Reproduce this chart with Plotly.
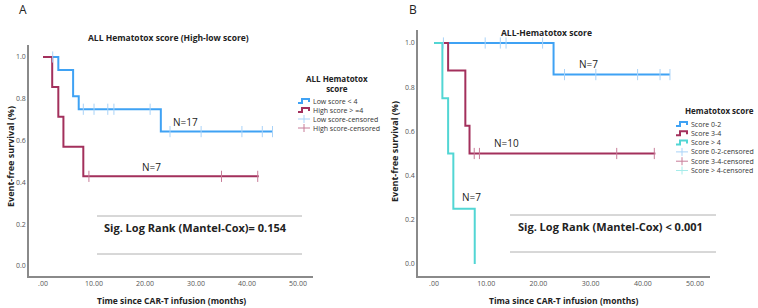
import plotly.graph_objects as go

W, H = 758, 308
FONT = "Open Sans"

# ---------------- data ----------------
x_ticks = [0, 10, 20, 30, 40, 50]
x_ticktext = [".00", "10.00", "20.00", "30.00", "40.00", "50.00"]
y_ticks = [0.0, 0.2, 0.4, 0.6, 0.8, 1.0]
y_ticktext = ["0.0", "0.2", "0.4", "0.6", "0.8", "1.0"]

# Panel A
a_low_t = [0, 3.0, 5.9, 7.0, 23.1, 45.0]
a_low_s = [1.0, 0.9375, 0.8125, 0.75, 0.643, 0.643]
a_low_cens_t = [1.9, 7.9, 10.0, 12.7, 13.9, 21.0, 24.9, 31.0, 39.0, 43.0, 45.0]
a_low_cens_s = [1.0, 0.75, 0.75, 0.75, 0.75, 0.75, 0.643, 0.643, 0.643, 0.643, 0.643]
a_high_t = [0, 1.8, 3.0, 4.0, 7.9, 42.3]
a_high_s = [1.0, 0.857, 0.714, 0.571, 0.429, 0.429]
a_high_cens_t = [9.0, 35.0, 42.1]
a_high_cens_s = [0.429, 0.429, 0.429]

# Panel B
b_s02_t = [0, 22.9, 45.2]
b_s02_s = [1.0, 0.857, 0.857]
b_s02_cens_t = [1.8, 9.8, 12.7, 13.8, 20.8, 25.0, 31.0, 39.0, 43.3, 45.2]
b_s02_cens_s = [1.0, 1.0, 1.0, 1.0, 1.0, 0.857, 0.857, 0.857, 0.857, 0.857]
b_s34_t = [0, 2.7, 6.0, 6.8, 42.4]
b_s34_s = [1.0, 0.875, 0.625, 0.5, 0.5]
b_s34_cens_t = [7.7, 8.7, 35.0, 42.2]
b_s34_cens_s = [0.5, 0.5, 0.5, 0.5]
b_s4_t = [0, 1.6, 2.7, 3.7, 7.8]
b_s4_s = [1.0, 0.75, 0.5, 0.25, 0.0]

a_legend_title = "ALL Hematotox<br>score"
a_legend_labels = ["Low score < 4", "High score > =4", "Low score-censored", "High score-censored"]
b_legend_title = "Hematotox score"
b_legend_labels = ["Score 0-2", "Score 3-4", "Score > 4", "Score 0-2-censored",
                   "Score 3-4-censored", "Score > 4-censored"]

BLUE, BLUE_L = "#3fa2f4", "#a9d3f8"
RED, RED_L = "#a3305c", "#c77c98"
CYAN, CYAN_L = "#52d6d4", "#a6ecea"

def px(x):
    return x / W

def py(y):
    return 1 - y / H

fig = go.Figure()

def step(x, y, color, xa, ya):
    fig.add_trace(go.Scatter(x=x, y=y, mode="lines", line=dict(color=color, width=2, shape="hv"),
                             xaxis=xa, yaxis=ya, showlegend=False, hoverinfo="skip"))

def cens(x, y, color, xa, ya):
    fig.add_trace(go.Scatter(x=x, y=y, mode="markers",
                             marker=dict(symbol="line-ns-open", size=8, color=color,
                                         line=dict(color=color, width=1)),
                             xaxis=xa, yaxis=ya, showlegend=False, hoverinfo="skip"))

step(a_low_t, a_low_s, BLUE, "x", "y")
step(a_high_t, a_high_s, RED, "x", "y")
cens(a_low_cens_t, a_low_cens_s, BLUE_L, "x", "y")
cens(a_high_cens_t, a_high_cens_s, RED_L, "x", "y")

step(b_s02_t, b_s02_s, BLUE, "x2", "y2")
step(b_s34_t, b_s34_s, RED, "x2", "y2")
step(b_s4_t, b_s4_s, CYAN, "x2", "y2")
cens(b_s02_cens_t, b_s02_cens_s, BLUE_L, "x2", "y2")
cens(b_s34_cens_t, b_s34_cens_s, RED_L, "x2", "y2")

axis_common = dict(showgrid=False, zeroline=False, showline=True, linecolor="#8a8a8a", linewidth=1.5,
                   ticks="", tickfont=dict(family=FONT, size=7, color="#555"))

fig.update_layout(
    width=W, height=H, margin=dict(l=0, r=0, t=0, b=0),
    paper_bgcolor="white", plot_bgcolor="white",
    xaxis=dict(domain=[px(29), px(313)], range=[-2.75, 52.94], tickvals=x_ticks, ticktext=x_ticktext,
               anchor="y", **axis_common),
    yaxis=dict(domain=[py(276), py(45)], range=[-0.0478, 1.0574], tickvals=y_ticks, ticktext=y_ticktext,
               anchor="x", **axis_common),
    xaxis2=dict(domain=[px(418), px(710)], range=[-3.07, 52.87], tickvals=x_ticks, ticktext=x_ticktext,
                anchor="y2", **axis_common),
    yaxis2=dict(domain=[py(276), py(30)], range=[-0.0543, 1.0588], tickvals=y_ticks, ticktext=y_ticktext,
                anchor="x2", **axis_common),
)

ann = []
shapes = []

def text(x, y, s, size, bold=False, xref="paper", yref="paper", angle=0, xanchor="center", color="#222"):
    ann.append(dict(x=x, y=y, xref=xref, yref=yref, text=("<b>%s</b>" % s) if bold else s,
                    showarrow=False, xanchor=xanchor, yanchor="middle", textangle=angle,
                    font=dict(family=FONT, size=size, color=color)))

# panel labels and titles
text(px(23), py(9), "A", 12)
text(px(413), py(9), "B", 12)
text(px(168), py(38), "ALL Hematotox score (High-low score)", 8.5, bold=True)
text(px(546), py(32), "ALL-Hematotox score", 8.5, bold=True)
# axis titles
text(px(10), py(157), "Event-free survival (%)", 9, bold=True, angle=-90)
text(px(395), py(152), "Event-free survival (%)", 9, bold=True, angle=-90)
text(px(171), py(300), "Time since CAR-T infusion (months)", 8.5, bold=True)
text(px(563), py(300), "Tima since CAR-T infusion (months)", 8.5, bold=True)

# N labels (data coords)
text(28.0, 0.69, "N=17", 10, xref="x", yref="y")
text(21.3, 0.475, "N=7", 10, xref="x", yref="y")
text(29.6, 0.905, "N=7", 10, xref="x2", yref="y2")
text(13.9, 0.547, "N=10", 10, xref="x2", yref="y2")
text(7.1, 0.303, "N=7", 10, xref="x2", yref="y2")

# Sig boxes
text(px(195), py(227), "Sig. Log Rank (Mantel-Cox)= 0.154", 11, bold=True)
text(px(610), py(226), "Sig. Log Rank (Mantel-Cox) < 0.001", 11, bold=True)
for (x0, x1, ys) in [(97, 302, (216, 254)), (510, 716, (215, 252))]:
    for yy in ys:
        shapes.append(dict(type="line", xref="paper", yref="paper", x0=px(x0), x1=px(x1),
                           y0=py(yy), y1=py(yy), line=dict(color="#b0b0b0", width=1)))

# manual legends
def legend(title, cx, title_y, labels, colors, x0, y_first, dy):
    text(px(cx), py(title_y), title, 8, bold=True)
    for i, (lab, (col, kind)) in enumerate(zip(labels, colors)):
        y = y_first + i * dy
        if kind == "step":
            path = "M %f,%f L %f,%f L %f,%f L %f,%f L %f,%f" % (
                px(x0), py(y + 2), px(x0 + 4), py(y + 2), px(x0 + 4), py(y - 2),
                px(x0 + 11), py(y - 2), px(x0 + 11), py(y + 1))
            shapes.append(dict(type="path", xref="paper", yref="paper", path=path,
                               line=dict(color=col, width=2)))
        else:
            shapes.append(dict(type="line", xref="paper", yref="paper", x0=px(x0), x1=px(x0 + 12),
                               y0=py(y), y1=py(y), line=dict(color=col, width=1)))
            shapes.append(dict(type="line", xref="paper", yref="paper", x0=px(x0 + 6), x1=px(x0 + 6),
                               y0=py(y - 4), y1=py(y + 4), line=dict(color=col, width=1)))
        text(px(x0 + 13), py(y), lab, 7, xanchor="left", color="#333")

legend(a_legend_title, 337, 83.5, a_legend_labels,
       [(BLUE, "step"), (RED, "step"), (BLUE_L, "cens"), (RED_L, "cens")], 298, 101, 9)
legend(b_legend_title, 719, 110, b_legend_labels,
       [(BLUE, "step"), (RED, "step"), (CYAN, "step"), (BLUE_L, "cens"), (RED_L, "cens"), (CYAN_L, "cens")],
       676, 124, 9.3)

fig.update_layout(annotations=ann, shapes=shapes)
fig.write_html("out.html")
